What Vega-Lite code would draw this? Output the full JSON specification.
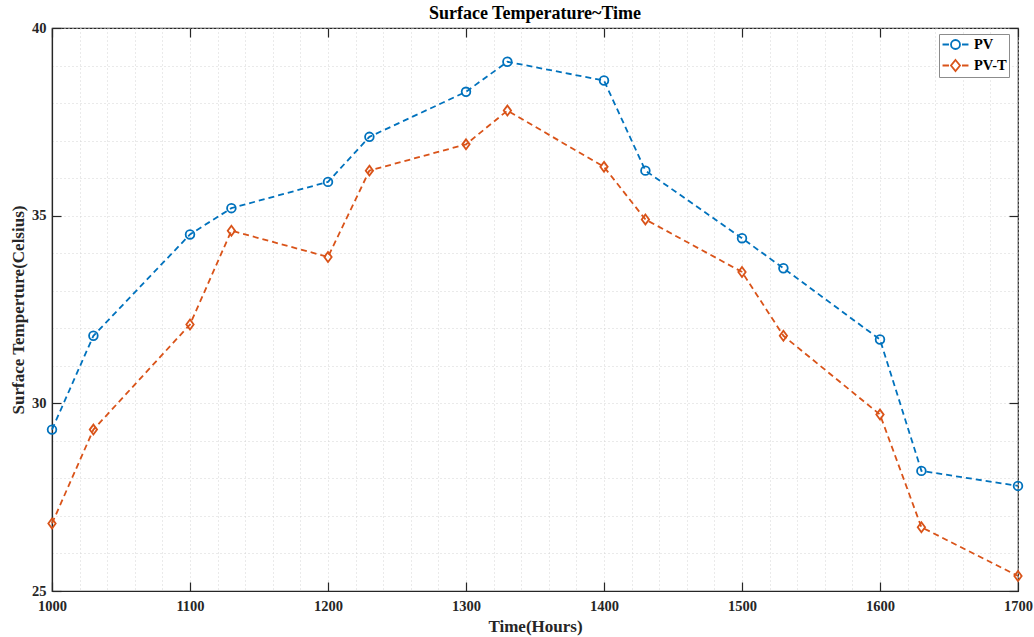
{
  "$schema": "https://vega.github.io/schema/vega-lite/v6.json",
  "autosize": "none",
  "width": 966,
  "height": 563,
  "padding": {"left": 52, "top": 28, "right": 16, "bottom": 46},
  "background": "white",
  "title": {"text": "Surface Temperature~Time", "font": "Liberation Serif", "fontSize": 18, "fontWeight": "bold", "color": "#000", "anchor": "middle", "offset": -3},
  "config": {
    "view": {"stroke": "#262626", "strokeWidth": 1.2},
    "axis": {"labelFont": "Liberation Serif", "labelFontWeight": "bold", "labelFontSize": 14.5, "labelColor": "#262626", "titleFont": "Liberation Serif", "titleFontWeight": "bold", "titleFontSize": 17, "titleColor": "#262626", "domainColor": "#262626", "tickColor": "#262626", "domainWidth": 1.2, "tickWidth": 1.2}
  },
  "data": {"values": [
    {"time": 1000, "temp": 29.3, "series": "PV"},
    {"time": 1030, "temp": 31.8, "series": "PV"},
    {"time": 1100, "temp": 34.5, "series": "PV"},
    {"time": 1130, "temp": 35.2, "series": "PV"},
    {"time": 1200, "temp": 35.9, "series": "PV"},
    {"time": 1230, "temp": 37.1, "series": "PV"},
    {"time": 1300, "temp": 38.3, "series": "PV"},
    {"time": 1330, "temp": 39.1, "series": "PV"},
    {"time": 1400, "temp": 38.6, "series": "PV"},
    {"time": 1430, "temp": 36.2, "series": "PV"},
    {"time": 1500, "temp": 34.4, "series": "PV"},
    {"time": 1530, "temp": 33.6, "series": "PV"},
    {"time": 1600, "temp": 31.7, "series": "PV"},
    {"time": 1630, "temp": 28.2, "series": "PV"},
    {"time": 1700, "temp": 27.8, "series": "PV"},
    {"time": 1000, "temp": 26.8, "series": "PV-T"},
    {"time": 1030, "temp": 29.3, "series": "PV-T"},
    {"time": 1100, "temp": 32.1, "series": "PV-T"},
    {"time": 1130, "temp": 34.6, "series": "PV-T"},
    {"time": 1200, "temp": 33.9, "series": "PV-T"},
    {"time": 1230, "temp": 36.2, "series": "PV-T"},
    {"time": 1300, "temp": 36.9, "series": "PV-T"},
    {"time": 1330, "temp": 37.8, "series": "PV-T"},
    {"time": 1400, "temp": 36.3, "series": "PV-T"},
    {"time": 1430, "temp": 34.9, "series": "PV-T"},
    {"time": 1500, "temp": 33.5, "series": "PV-T"},
    {"time": 1530, "temp": 31.8, "series": "PV-T"},
    {"time": 1600, "temp": 29.7, "series": "PV-T"},
    {"time": 1630, "temp": 26.7, "series": "PV-T"},
    {"time": 1700, "temp": 25.4, "series": "PV-T"}
  ]},
  "resolve": {"axis": {"x": "independent", "y": "independent"}},
  "layer": [
    {
      "mark": {"type": "line", "strokeDash": [6, 4], "strokeWidth": 1.8},
      "encoding": {
        "x": {"field": "time", "type": "quantitative", "title": "Time(Hours)",
          "scale": {"domain": [1000, 1700], "nice": false, "zero": false},
          "axis": {"values": [1000,1020,1040,1060,1080,1100,1120,1140,1160,1180,1200,1220,1240,1260,1280,1300,1320,1340,1360,1380,1400,1420,1440,1460,1480,1500,1520,1540,1560,1580,1600,1620,1640,1660,1680,1700],
            "format": "d", "labelExpr": "datum.value % 100 === 0 ? datum.label : ''",
            "tickSize": -9, "labelPadding": 17, "tickOpacity": {"condition": {"test": "datum.value % 100 === 0", "value": 1}, "value": 0},
            "grid": true, "gridDash": [1, 3], "gridColor": "#d4d4d4", "gridWidth": 1, "titlePadding": 6, "labelFlush": false}},
        "y": {"field": "temp", "type": "quantitative", "title": "Surface Temperture(Celsius)",
          "scale": {"domain": [25, 40], "nice": false, "zero": false},
          "axis": {"values": [25,26,27,28,29,30,31,32,33,34,35,36,37,38,39,40],
            "labelExpr": "datum.value % 5 === 0 ? datum.label : ''",
            "tickSize": -9, "labelPadding": 15, "tickOpacity": {"condition": {"test": "datum.value % 5 === 0", "value": 1}, "value": 0},
            "grid": true, "gridDash": [1, 3], "gridColor": "#d4d4d4", "gridWidth": 1, "titlePadding": 4}},
        "color": {"field": "series", "type": "nominal",
          "scale": {"domain": ["PV", "PV-T"], "range": ["#0072BD", "#D95319"]},
          "legend": {"title": null, "orient": "none", "legendX": 887, "legendY": 6,
            "labelFont": "Liberation Serif", "labelFontWeight": "bold", "labelFontSize": 14.5, "labelColor": "#000",
            "strokeColor": "#8c8c8c", "fillColor": "white", "padding": 2, "rowPadding": 3, "labelOffset": 10, "symbolOffset": 6,
            "symbolSize": 225, "symbolStrokeWidth": 1.8, "symbolFillColor": "transparent",
            "encode": {"symbols": {"update": {"shape": {"signal": "datum.value === 'PV' ? 'M-1.73,0H-0.87M0.87,0H1.73M-0.6,0A0.6,0.6 0 1,1 0.6,0A0.6,0.6 0 1,1 -0.6,0' : 'M-1.73,0H-0.87M0.87,0H1.73M0,-0.73L0.6,0L0,0.73L-0.6,0Z'"}, "fill": {"value": "transparent"}}}}}}
      }
    },
    {
      "transform": [{"filter": "datum.series === 'PV'"}],
      "mark": {"type": "point", "filled": false, "strokeWidth": 1.8, "opacity": 1, "shape": "circle", "size": 75},
      "encoding": {
        "x": {"field": "time", "type": "quantitative",
          "axis": {"orient": "top", "values": [1000,1100,1200,1300,1400,1500,1600,1700], "labels": false, "title": null, "tickSize": -9, "grid": false, "domain": false}},
        "y": {"field": "temp", "type": "quantitative",
          "axis": {"orient": "right", "values": [25,30,35,40], "labels": false, "title": null, "tickSize": -9, "grid": false, "domain": false}},
        "color": {"field": "series", "type": "nominal"}
      }
    },
    {
      "transform": [{"filter": "datum.series === 'PV-T'"}],
      "mark": {"type": "point", "filled": false, "strokeWidth": 1.8, "opacity": 1, "shape": "M0,-1.15L0.85,0L0,1.15L-0.85,0Z", "size": 75},
      "encoding": {
        "x": {"field": "time", "type": "quantitative", "axis": null},
        "y": {"field": "temp", "type": "quantitative", "axis": null},
        "color": {"field": "series", "type": "nominal"}
      }
    }
  ]
}
